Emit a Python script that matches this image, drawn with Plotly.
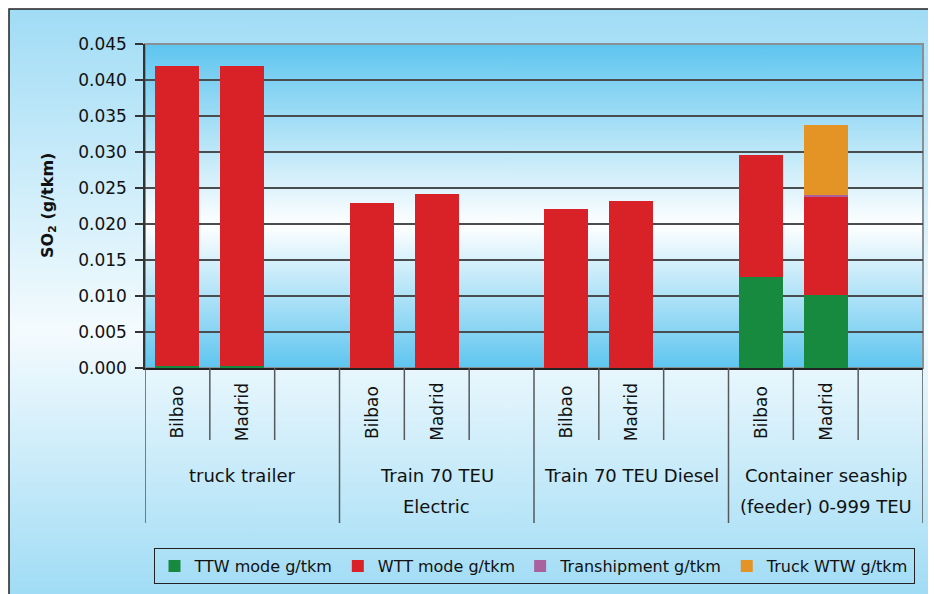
import base64
import plotly.graph_objects as go

# ---------------- data ----------------
groups = ["truck trailer", "Train 70 TEU Electric", "Train 70 TEU Diesel",
          "Container seaship (feeder) 0-999 TEU"]
group_line1 = ["truck trailer", "Train 70 TEU", "Train 70 TEU Diesel", "Container seaship"]
group_line2 = ["", "Electric", "", "(feeder) 0-999 TEU"]
cities = ["Bilbao", "Madrid"]

# one value per bar: group0-Bilbao, group0-Madrid, group1-Bilbao, ...
ttw_mode = [0.0003, 0.0003, 0.0, 0.0, 0.0, 0.0, 0.0126, 0.0101]
wtt_mode = [0.0416, 0.0416, 0.0229, 0.0242, 0.0221, 0.0232, 0.0170, 0.0137]
transhipment = [0.0, 0.0, 0.0, 0.0, 0.0, 0.0, 0.0, 0.0002]
truck_wtw = [0.0, 0.0, 0.0, 0.0, 0.0, 0.0, 0.0, 0.0098]

series_names = ["TTW mode g/tkm", "WTT mode g/tkm", "Transhipment g/tkm", "Truck WTW g/tkm"]
series_values = [ttw_mode, wtt_mode, transhipment, truck_wtw]
series_colors = ["#178a40", "#d92128", "#a9629e", "#e39425"]

y_tick_vals = [0.000, 0.005, 0.010, 0.015, 0.020, 0.025, 0.030, 0.035, 0.040, 0.045]
y_title = "SO<sub>2</sub> (g/tkm)"

FONT = "DejaVu Sans"
TXT = "#111111"

# ---------------- slots (3 per group: Bilbao, Madrid, empty) ----------------
slots = []
slot_city = []
bar_slot = []
for g in groups:
    for c in cities:
        key = f"{g} | {c}"
        slots.append(key)
        slot_city.append(c)
        bar_slot.append(key)
    slots.append(f"{g} | ")
    slot_city.append("")


def svg_gradient(stops):
    st = "".join(f'<stop offset="{o}" stop-color="{c}"/>' for o, c in stops)
    svg = ('<svg xmlns="http://www.w3.org/2000/svg" width="100" height="100" '
           'preserveAspectRatio="none"><defs><linearGradient id="g" x1="0" y1="0" x2="0" y2="1">'
           + st + '</linearGradient></defs><rect width="100" height="100" fill="url(#g)"/></svg>')
    return "data:image/svg+xml;base64," + base64.b64encode(svg.encode()).decode()


fig = go.Figure()
for name, vals, col in zip(series_names, series_values, series_colors):
    fig.add_trace(go.Bar(
        x=bar_slot, y=vals, name=name,
        marker=dict(color=col, line=dict(width=0)),
    ))

# page is 936x594 but the html body has an 8px margin
PAGE_W, PAGE_H, OFF = 936, 594, 8
W, H = PAGE_W - OFF, PAGE_H - OFF
# plot area on the page: x 145..923, y 44..368
L, R, T, B = 145 - OFF, PAGE_W - 923, 44 - OFF, PAGE_H - 368
PW, PH = W - L - R, H - T - B


def px_x(px):
    """page pixel x -> paper x"""
    return (px - OFF - L) / PW


def px_y(py):
    """page pixel y -> paper y"""
    return (H - B - (py - OFF)) / PH


FRAME_X, FRAME_Y = 9, 9

images = [
    dict(source=svg_gradient([(0, "#a0dcf5"), (0.55, "#f4fbfe"), (1, "#a0dcf5")]),
         xref="paper", yref="paper", x=px_x(FRAME_X), y=px_y(FRAME_Y),
         sizex=(PAGE_W - FRAME_X) / PW, sizey=(PAGE_H - FRAME_Y) / PH,
         xanchor="left", yanchor="top", sizing="stretch", layer="below"),
    dict(source=svg_gradient([(0, "#5ec5ef"), (0.56, "#ffffff"), (1, "#5ec5ef")]),
         xref="paper", yref="paper", x=0, y=1, sizex=1, sizey=1,
         xanchor="left", yanchor="top", sizing="stretch", layer="below"),
]

shapes = [
    # outer frame (right/bottom edges lie outside the picture)
    dict(type="rect", xref="paper", yref="paper", x0=px_x(FRAME_X), x1=px_x(PAGE_W + 40),
         y0=px_y(PAGE_H + 40), y1=px_y(FRAME_Y), line=dict(color="#222222", width=1.5),
         fillcolor="rgba(0,0,0,0)", layer="below"),
    # plot area border
    dict(type="rect", xref="paper", yref="paper", x0=0, x1=1, y0=0, y1=1,
         line=dict(color="#8a8f94", width=2), fillcolor="rgba(0,0,0,0)", layer="below"),
]
n_slots = len(slots)
for b in range(n_slots + 1):
    pos = b - 0.5
    long_line = (b % 3 == 0)
    shapes.append(dict(
        type="line", xref="x", yref="paper", x0=pos, x1=pos,
        y0=0, y1=px_y(523 if long_line else 440),
        line=dict(color="#55595c", width=1.5), layer="above"))

annotations = []
for key, c in zip(slots, slot_city):
    if c:
        annotations.append(dict(
            x=key, xref="x", yref="paper", y=px_y(412), text=c, textangle=-90,
            showarrow=False, xanchor="center", yanchor="middle",
            font=dict(family=FONT, size=17, color=TXT)))
for k, (l1, l2) in enumerate(zip(group_line1, group_line2)):
    annotations.append(dict(
        x=3 * k + 1, xref="x", yref="paper", y=px_y(475), text=l1, showarrow=False,
        xanchor="center", yanchor="middle", font=dict(family=FONT, size=18, color=TXT)))
    if l2:
        annotations.append(dict(
            x=3 * k + 1, xref="x", yref="paper", y=px_y(506), text=l2, showarrow=False,
            xanchor="center", yanchor="middle", font=dict(family=FONT, size=18, color=TXT)))
annotations.append(dict(
    x=px_x(48), y=px_y(206), xref="paper", yref="paper", text=f"<b>{y_title}</b>",
    textangle=-90, showarrow=False, xanchor="center", yanchor="middle",
    font=dict(family=FONT, size=16, color=TXT)))

fig.update_layout(
    width=W, height=H,
    margin=dict(l=L, r=R, t=T, b=B, pad=0, autoexpand=False),
    paper_bgcolor="white",
    plot_bgcolor="rgba(0,0,0,0)",
    barmode="stack",
    bargap=0.32,
    font=dict(family=FONT, size=17, color=TXT),
    images=images,
    shapes=shapes,
    annotations=annotations,
    showlegend=True,
    legend=dict(
        orientation="h", x=0.5, xanchor="center", y=px_y(548), yanchor="top",
        bgcolor="rgba(0,0,0,0)", bordercolor="#222222", borderwidth=1,
        font=dict(family=FONT, size=16, color=TXT), traceorder="normal",
        itemwidth=30,
    ),
    xaxis=dict(
        type="category", categoryorder="array", categoryarray=slots,
        range=[-0.5, n_slots - 0.5], showticklabels=False, ticks="",
        showgrid=False, zeroline=False,
        showline=True, linecolor="#222222", linewidth=2,
    ),
    yaxis=dict(
        range=[0, 0.045], tickvals=y_tick_vals, tickformat=".3f",
        ticks="outside", ticklen=8, tickcolor="#333333", tickwidth=1.5,
        ticklabelstandoff=5,
        showgrid=True, gridcolor="#4a4d50", gridwidth=1.6,
        zeroline=False, showline=True, linecolor="#333333", linewidth=1.5,
        tickfont=dict(family=FONT, size=17, color=TXT),
    ),
)

fig.write_html("out.html")
